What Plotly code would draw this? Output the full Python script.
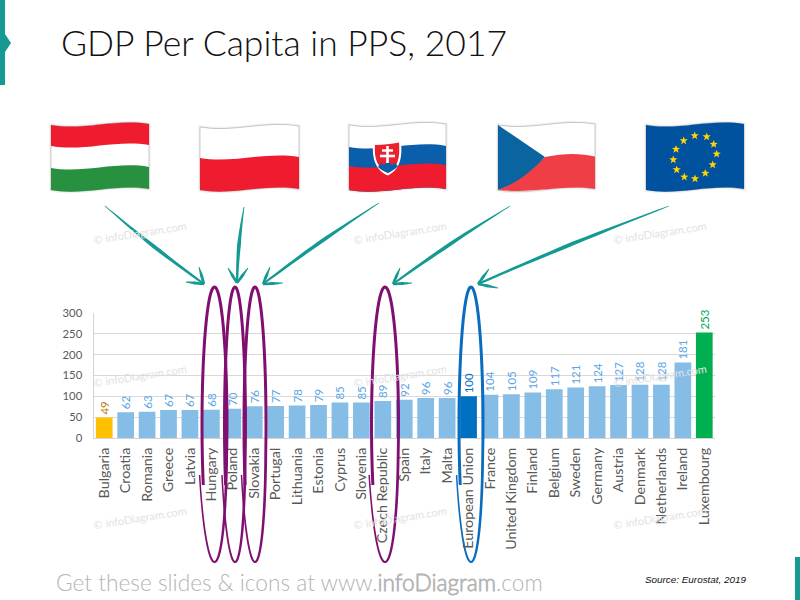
import math
import plotly.graph_objects as go

# GDP per capita in PPS, EU-28 = 100
countries = ["Bulgaria", "Croatia", "Romania", "Greece", "Latvia", "Hungary", "Poland",
             "Slovakia", "Portugal", "Lithuania", "Estonia", "Cyprus", "Slovenia",
             "Czech Republic", "Spain", "Italy", "Malta", "European Union", "France",
             "United Kingdom", "Finland", "Belgium", "Sweden", "Germany", "Austria",
             "Denmark", "Netherlands", "Ireland", "Luxembourg"]
gdp_pps = [49, 62, 63, 67, 67, 68, 70, 76, 77, 78, 79, 85, 85, 89, 92, 96, 96, 100,
           104, 105, 109, 117, 121, 124, 127, 128, 128, 181, 253]
y_ticks = [0, 50, 100, 150, 200, 250, 300]

BAR = "#86bde6"
BAR_LABEL = "#5aa5e2"
HIGHLIGHT_BAR = {"Bulgaria": "#ffc000", "European Union": "#0070c0", "Luxembourg": "#00b050"}
HIGHLIGHT_LABEL = {"Bulgaria": "#c27c0e", "European Union": "#0070c0", "Luxembourg": "#00a651"}
TEAL = "#149a92"
PURPLE = "#7f0f70"
RED = "#ee1c2e"

PLOT_LEFT, PLOT_RIGHT, PLOT_TOP, PLOT_BOTTOM = 93.5, 715, 313, 438


def px(x):
    return x / 800


def py(y):
    return 1 - y / 600


def pt(x, y):
    return f"{px(x):.5f},{py(y):.5f}"


def poly(points):
    return "M " + " L ".join(pt(x, y) for x, y in points) + " Z"


shapes = []


def add(path, fill=None, line=None, width=0, layer="above"):
    shapes.append(dict(type="path", xref="paper", yref="paper", path=path, layer=layer,
                       fillcolor=fill or "rgba(0,0,0,0)",
                       line=dict(color=line or "rgba(0,0,0,0)", width=width)))


# --- wavy flag helpers ---------------------------------------------------
def edge(x0, x1, y):
    w = x1 - x0
    return f"C {pt(x0 + .33 * w, y + 6)} {pt(x0 + .66 * w, y - 7)} {pt(x1, y - 1)}"


def edge_back(x0, x1, y):
    w = x1 - x0
    return f"C {pt(x0 + .66 * w, y - 7)} {pt(x0 + .33 * w, y + 6)} {pt(x0, y)}"


def band(x0, x1, top, bottom):
    return (f"M {pt(x0, top)} {edge(x0, x1, top)} L {pt(x1, bottom - 1)} "
            f"{edge_back(x0, x1, bottom)} Z")


def flag_shadow(x0, x1, top, bottom):
    p = band(x0, x1, top, bottom)
    add(p, None, "rgba(0,0,0,0.05)", 3.5)
    add(p, "#ffffff", "rgba(0,0,0,0.2)", 1)


def star(cx, cy, r=4.3):
    pts = []
    for i in range(10):
        a = -math.pi / 2 + i * math.pi / 5
        rr = r if i % 2 == 0 else r * 0.42
        pts.append((cx + rr * math.cos(a), cy + rr * math.sin(a)))
    return poly(pts)


# Hungary
flag_shadow(51, 149, 125, 190)
add(band(51, 149, 125, 146), RED)
add(band(51, 149, 168, 190), "#27913f")

# Poland
flag_shadow(200, 299, 127, 190)
add(band(200, 299, 158, 190), RED)

# Slovakia
flag_shadow(349, 446, 125, 190)
add(band(349, 446, 147, 190), "#0b5eaa")
add(band(349, 446, 166, 190), RED)
shield = (f"M {pt(373, 143)} C {pt(382, 143)} {pt(392, 142)} {pt(401, 140)} "
          f"C {pt(402, 155)} {pt(402, 168)} {pt(388, 175.5)} "
          f"C {pt(375, 170)} {pt(372, 158)} {pt(373, 143)} Z")
add(shield, "#ffffff")
add(f"M {pt(375, 145)} C {pt(383, 145)} {pt(392, 144)} {pt(399, 142.5)} "
    f"C {pt(400, 155)} {pt(399, 167)} {pt(388, 173)} "
    f"C {pt(377, 168)} {pt(374, 158)} {pt(375, 145)} Z", "#e8232f")
add(f"M {pt(378, 167)} L {pt(381, 163)} L {pt(384, 165)} L {pt(388, 161)} L {pt(392, 165)} "
    f"L {pt(395, 163)} L {pt(398, 166)} C {pt(396, 169)} {pt(392, 171)} {pt(388, 173)} "
    f"C {pt(384, 171)} {pt(381, 170)} {pt(378, 167)} Z", "#0b5eaa")
add(f"M {pt(387.5, 146)} L {pt(387.5, 163)}", None, "#ffffff", 2.6)
add(f"M {pt(382, 150.5)} L {pt(393, 150.5)}", None, "#ffffff", 2.4)
add(f"M {pt(380, 156)} L {pt(395, 156)}", None, "#ffffff", 2.6)

# Czech Republic
flag_shadow(498, 595, 125, 190)
add(f"M {pt(498, 125)} L {pt(545, 157)} L {pt(525, 180)} L {pt(498, 190)} Z", "#0a64a0")
add(f"M {pt(545, 157)} C {pt(565, 153)} {pt(580, 153)} {pt(595, 156.5)} L {pt(595, 189)} "
    f"C {pt(565, 184)} {pt(535, 194)} {pt(498, 190)} C {pt(515, 184)} {pt(530, 173)} {pt(545, 157)} Z",
    "#ef3e45")

# European Union, twelve stars on a slightly skewed ring
flag_shadow(646, 744, 125, 190)
add(band(646, 744, 125, 190), "#00529f")
eu_ring = [(694.7, 135.7), (706.7, 136.7), (713.7, 144.3), (716.7, 154), (712.7, 164.7),
           (705.3, 173.3), (695, 178.7), (684.3, 177), (676.7, 169.7), (673.3, 159.7),
           (676, 149.3), (683.7, 140.7)]
for sx, sy in eu_ring:
    add(star(sx, sy), "#ffd400")


# --- hand-drawn tapered arrows -------------------------------------------
def stroke(x0, y0, x1, y1, w_start, w_mid, w_end, bow=0.0):
    n = 16
    dx, dy = x1 - x0, y1 - y0
    ln = math.hypot(dx, dy)
    nx, ny = -dy / ln, dx / ln
    side_a, side_b = [], []
    for i in range(n + 1):
        t = i / n
        width = (w_start + (w_mid - w_start) * t * 2) if t < .5 else (w_mid + (w_end - w_mid) * (t - .5) * 2)
        off = bow * math.sin(math.pi * t)
        cx, cy = x0 + dx * t + nx * off, y0 + dy * t + ny * off
        side_a.append((cx + nx * width / 2, cy + ny * width / 2))
        side_b.append((cx - nx * width / 2, cy - ny * width / 2))
    return poly(side_a + side_b[::-1])


arrows = [
    ((105, 206), (204, 284), (186, 282), (199, 267)),
    ((244, 207), (237, 283), (228, 268), (248, 268)),
    ((379, 203), (263, 284), (283, 283), (270, 267)),
    ((510, 206), (393, 284), (412, 283), (400, 268)),
    ((669, 206), (478, 284), (498, 288), (489, 269)),
]
for tail, tip, barb_a, barb_b in arrows:
    add(stroke(*tail, *tip, 0.8, 3.8, 2.0, bow=1.5), TEAL)
    add(stroke(*barb_a, *tip, 0.8, 3.0, 2.4), TEAL)
    add(stroke(*barb_b, *tip, 0.8, 3.0, 2.4), TEAL)


# --- open loops drawn around selected categories -------------------------
def loop(cx, half_w, color, top=287, bottom=562):
    cy = (top + bottom) / 2
    b = (bottom - top) / 2
    start = math.asin((485 - cy) / b)          # left side, thick end
    steps = 120
    outer, inner = [], []
    for i in range(steps + 1):
        t = i / steps
        # travels up over the top, down the right side, around the bottom and past the start
        ang = math.pi - start + t * (2 * math.pi + 0.08)
        a = half_w + (3.5 * max(0, (t - .6) / .4))
        x = cx + a * math.cos(ang)
        y = cy + b * math.sin(ang)
        nx, ny = math.cos(ang) / a, math.sin(ang) / b
        nl = math.hypot(nx, ny)
        nx, ny = nx / nl, ny / nl
        width = 3.0 if t < .55 else max(1.3, 3.0 - (t - .55) * 3.4)
        outer.append((x + nx * width / 2, y + ny * width / 2))
        inner.append((x - nx * width / 2, y - ny * width / 2))
    add(poly(outer + inner[::-1]), color)


loop(214.5, 12.5, PURPLE)
loop(235, 10.5, PURPLE)
loop(255, 11, PURPLE)
loop(385, 13.5, PURPLE)
loop(471, 12, "#0a6cbf")

# --- slide furniture -----------------------------------------------------
add(poly([(0, 0), (5, 0), (5, 34), (11, 43), (5, 52), (5, 85), (0, 85)]), TEAL)
add(poly([(795, 557), (800, 557), (800, 600), (795, 600)]), TEAL)

annotations = [
    dict(text="GDP Per Capita in PPS, 2017", x=px(59), y=py(43), xref="paper", yref="paper",
         xanchor="left", yanchor="middle", showarrow=False,
         font=dict(family="Lato Light, Lato, sans-serif", size=35.5, color="#111111")),
    dict(text="Get these slides & icons at www.<b>infoDiagram</b>.com", x=px(54), y=py(582),
         xref="paper", yref="paper", xanchor="left", yanchor="middle", showarrow=False,
         font=dict(family="Lato Light, Lato, sans-serif", size=22.7, color="#b4b4b4")),
    dict(text="<i>Source: Eurostat, 2019</i>", x=px(749), y=py(579), xref="paper", yref="paper",
         xanchor="right", yanchor="middle", showarrow=False,
         font=dict(family="Liberation Sans, sans-serif", size=9.9, color="#111111")),
]
# faint copyright marks on a 3 x 3 grid
for wx in (140, 400, 660):
    for wy in (233, 375, 517):
        annotations.append(dict(text="© infoDiagram.com", x=px(wx), y=py(wy), xref="paper",
                                yref="paper", xanchor="center", yanchor="middle",
                                showarrow=False, textangle=-9,
                                font=dict(family="Lato, sans-serif", size=11, color="#e2e2e2")))

fig = go.Figure(go.Bar(
    x=countries,
    y=gdp_pps,
    width=0.78,
    marker=dict(color=[HIGHLIGHT_BAR.get(c, BAR) for c in countries], line_width=0),
    text=[str(v) for v in gdp_pps],
    textposition="outside",
    textangle=-90,
    constraintext="none",
    cliponaxis=False,
    textfont=dict(family="Lato, sans-serif", size=11.5,
                  color=[HIGHLIGHT_LABEL.get(c, BAR_LABEL) for c in countries]),
    hoverinfo="x+y",
))

fig.update_layout(
    width=800, height=600,
    margin=dict(l=0, r=0, t=0, b=0, autoexpand=False),
    paper_bgcolor="white", plot_bgcolor="white",
    showlegend=False,
    shapes=shapes,
    annotations=annotations,
    xaxis=dict(domain=[px(PLOT_LEFT), px(PLOT_RIGHT)], tickangle=-90, ticks="", showgrid=False,
               showline=True, linecolor="#d4d4d4", linewidth=1, ticklabelstandoff=3,
               tickfont=dict(family="Lato, sans-serif", size=14.3, color="#595959"),
               categoryorder="array", categoryarray=countries),
    yaxis=dict(domain=[py(PLOT_BOTTOM), py(PLOT_TOP)], range=[0, 300], tickvals=y_ticks,
               showgrid=True, gridcolor="#d9d9d9", gridwidth=1, zeroline=False,
               showline=True, linecolor="#d4d4d4", linewidth=1, ticks="", ticklabelstandoff=8,
               tickfont=dict(family="Lato, sans-serif", size=11.3, color="#595959")),
)

fig.write_html("out.html")
